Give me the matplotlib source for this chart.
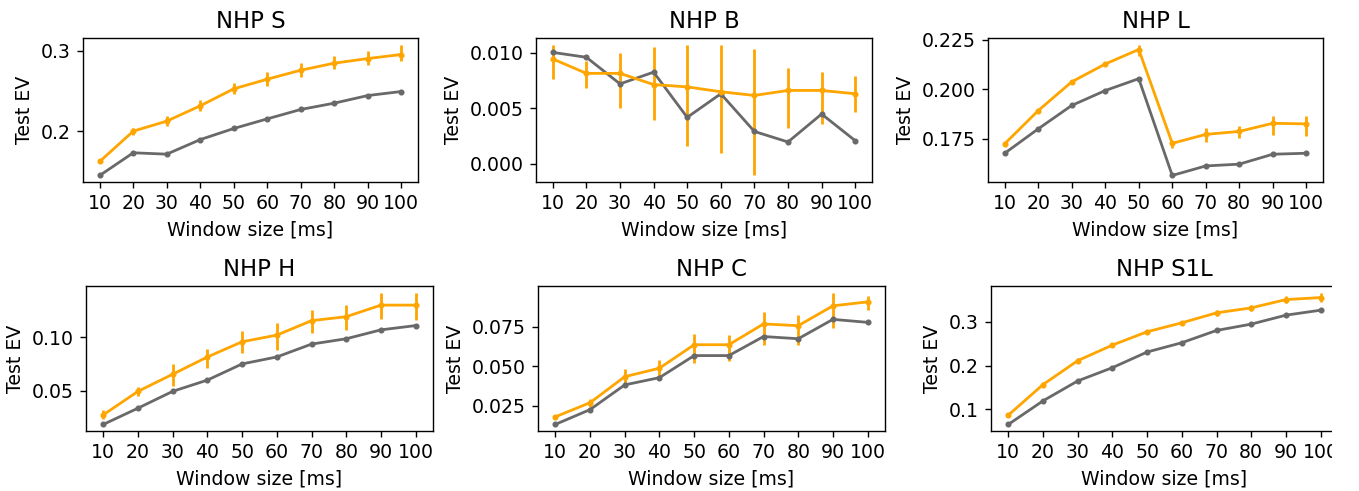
import matplotlib
matplotlib.use("Agg")
import matplotlib.pyplot as plt
from matplotlib.patches import Rectangle

window_ms = [10, 20, 30, 40, 50, 60, 70, 80, 90, 100]
xtick_labels = ["10", "20", "30", "40", "50", "60", "70", "80", "90", "100"]

titles = ["NHP S", "NHP B", "NHP L", "NHP H", "NHP C", "NHP S1L"]

# NHP S
s_orange = [0.163, 0.2004, 0.2128, 0.2317, 0.2527, 0.2646, 0.2757, 0.2844, 0.2901, 0.2951]
s_err_lo = [0.002, 0.0049, 0.0062, 0.0066, 0.0070, 0.0086, 0.0086, 0.0078, 0.0082, 0.0082]
s_err_hi = [0.002, 0.0041, 0.0062, 0.0074, 0.0074, 0.0090, 0.0090, 0.0086, 0.0099, 0.0123]
s_gray = [0.1457, 0.1737, 0.172, 0.190, 0.2037, 0.2156, 0.2272, 0.235, 0.2444, 0.2494]
s_yticks = [0.2, 0.3]

# NHP B
b_orange = [0.00944, 0.00814, 0.00814, 0.00713, 0.00692, 0.00648, 0.00615, 0.0066, 0.0066, 0.0063]
b_err_lo = [0.00178, 0.00136, 0.00308, 0.0032, 0.00536, 0.0055, 0.00722, 0.0034, 0.0030, 0.00169]
b_err_hi = [0.00124, 0.00112, 0.0018, 0.0034, 0.00376, 0.00426, 0.00417, 0.0020, 0.00163, 0.00157]
b_gray = [0.01003, 0.00959, 0.00719, 0.00825, 0.00417, 0.0063, 0.0029, 0.00195, 0.00447, 0.00207]
b_yticks = [0.000, 0.005, 0.010]

# NHP L
l_orange = [0.1725, 0.1892, 0.2037, 0.2127, 0.2200, 0.1727, 0.1772, 0.1787, 0.1828, 0.1825]
l_err_lo = [0.0008, 0.0008, 0.0008, 0.0008, 0.0033, 0.0022, 0.0037, 0.0032, 0.0057, 0.0062]
l_err_hi = [0.0008, 0.0008, 0.0008, 0.0008, 0.0025, 0.0012, 0.0030, 0.0027, 0.0035, 0.0038]
l_gray = [0.1677, 0.1800, 0.1918, 0.1993, 0.2053, 0.1565, 0.1613, 0.1622, 0.1672, 0.1677]
l_yticks = [0.175, 0.200, 0.225]

# NHP H
h_orange = [0.0278, 0.0497, 0.0657, 0.0818, 0.0960, 0.1022, 0.1157, 0.1194, 0.1302, 0.1302]
h_err_lo = [0.0043, 0.0040, 0.0108, 0.0099, 0.0108, 0.0139, 0.0120, 0.0127, 0.0130, 0.0136]
h_err_hi = [0.0040, 0.0037, 0.0093, 0.0071, 0.0099, 0.0114, 0.0102, 0.0111, 0.0111, 0.0117]
h_gray = [0.0188, 0.0340, 0.0497, 0.0602, 0.0753, 0.0818, 0.0938, 0.0988, 0.1071, 0.1111]
h_yticks = [0.05, 0.10]

# NHP C
c_orange = [0.0178, 0.0268, 0.0433, 0.0487, 0.0636, 0.0636, 0.0768, 0.0757, 0.0883, 0.0908]
c_err_lo = [0.0010, 0.0027, 0.0067, 0.0052, 0.0113, 0.0103, 0.0136, 0.0123, 0.0140, 0.0050]
c_err_hi = [0.0010, 0.0021, 0.0052, 0.0050, 0.0065, 0.0059, 0.0073, 0.0069, 0.0084, 0.0038]
c_gray = [0.0130, 0.0224, 0.0381, 0.0427, 0.0567, 0.0567, 0.0688, 0.0674, 0.0797, 0.0778]
c_yticks = [0.025, 0.050, 0.075]

# NHP S1L
s1l_orange = [0.0867, 0.1567, 0.2114, 0.2471, 0.2776, 0.2981, 0.3209, 0.3323, 0.3513, 0.3559]
s1l_err_lo = [0.004, 0.0061, 0.0053, 0.004, 0.004, 0.004, 0.0068, 0.0076, 0.0084, 0.0099]
s1l_err_hi = [0.004, 0.0068, 0.0060, 0.004, 0.004, 0.004, 0.0068, 0.0068, 0.0084, 0.0114]
s1l_gray = [0.0654, 0.1194, 0.1650, 0.1954, 0.2312, 0.2525, 0.2806, 0.2951, 0.3156, 0.3270]
s1l_yticks = [0.1, 0.2, 0.3]

orange_series = [s_orange, b_orange, l_orange, h_orange, c_orange, s1l_orange]
err_lo_series = [s_err_lo, b_err_lo, l_err_lo, h_err_lo, c_err_lo, s1l_err_lo]
err_hi_series = [s_err_hi, b_err_hi, l_err_hi, h_err_hi, c_err_hi, s1l_err_hi]
gray_series = [s_gray, b_gray, l_gray, h_gray, c_gray, s1l_gray]
yticks_list = [s_yticks, b_yticks, l_yticks, h_yticks, c_yticks, s1l_yticks]

W, H = 1359, 491
DPI = 125
fig = plt.figure(figsize=(W / DPI, H / DPI), dpi=DPI)

FS = 10.9
TFS = 13.1

# axes boxes in pixels: (left, top, right, bottom)
boxes = [
    (83, 38, 418, 182),
    (536, 38, 872, 182),
    (988, 38, 1323, 182),
    (86, 286, 433, 431),
    (538, 286, 885, 431),
    (991, 286, 1338, 431),
]

for i in range(6):
    l, t, r, b = boxes[i]
    ax = fig.add_axes([l / W, 1 - b / H, (r - l) / W, (b - t) / H])
    ax.errorbar(window_ms, orange_series[i], yerr=[err_lo_series[i], err_hi_series[i]],
                color='orange', marker='.', markersize=5, lw=1.6, elinewidth=1.6, capsize=0)
    ax.plot(window_ms, gray_series[i], color='dimgray', marker='.', markersize=5, lw=1.6)
    ax.set_xticks(window_ms)
    ax.set_xticklabels(xtick_labels)
    ax.set_xlim(5, 105)
    ax.set_yticks(yticks_list[i])
    ax.tick_params(labelsize=FS)
    ax.set_title(titles[i], fontsize=TFS)
    ax.set_xlabel("Window size [ms]", fontsize=FS)
    ax.set_ylabel("Test EV", fontsize=FS)

# the reference image is cropped at the right edge
fig.patches.append(Rectangle((1332 / W, 0), 1 - 1332 / W, 1, transform=fig.transFigure,
                             facecolor='white', edgecolor='none', zorder=100))

fig.savefig("out.png", dpi=DPI)
